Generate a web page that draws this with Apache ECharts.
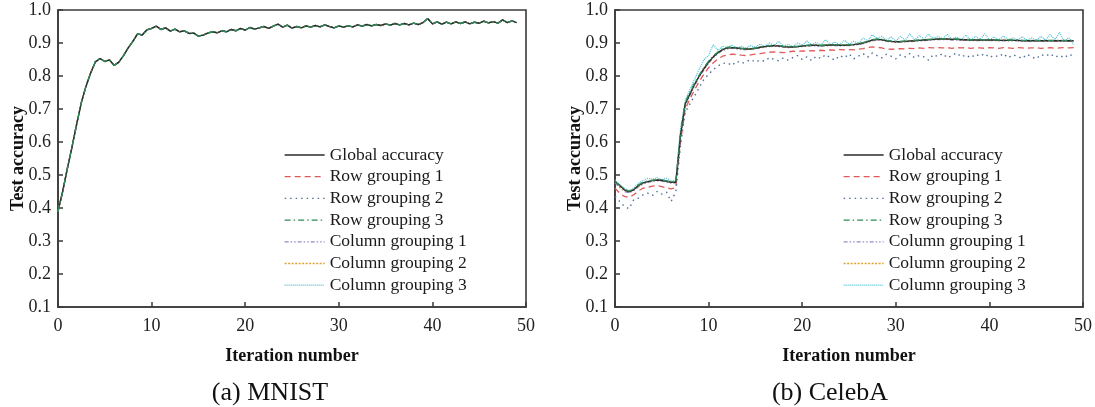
<!DOCTYPE html>
<html>
<head>
<meta charset="utf-8">
<script src="https://cdn.jsdelivr.net/npm/echarts@6/dist/echarts.min.js"></script>
<style>
html,body{margin:0;padding:0;background:#fff;}
#chart{width:1095px;height:407px;}
</style>
</head>
<body>
<div id="chart"></div>
<script>
// ---------------- DATA ----------------
var iterations = [
  0,0.5,1,1.5,2,2.5,3,3.5,4,4.5,
  5,5.5,6,6.5,7,7.5,8,8.5,9,9.5,
  10,10.5,11,11.5,12,12.5,13,13.5,14,14.5,
  15,15.5,16,16.5,17,17.5,18,18.5,19,19.5,
  20,20.5,21,21.5,22,22.5,23,23.5,24,24.5,
  25,25.5,26,26.5,27,27.5,28,28.5,29,29.5,
  30,30.5,31,31.5,32,32.5,33,33.5,34,34.5,
  35,35.5,36,36.5,37,37.5,38,38.5,39,39.5,
  40,40.5,41,41.5,42,42.5,43,43.5,44,44.5,
  45,45.5,46,46.5,47,47.5,48,48.5,49
];
var seriesNames = ["Global accuracy","Row grouping 1","Row grouping 2","Row grouping 3","Column grouping 1","Column grouping 2","Column grouping 3"];
var xTicks = [0,10,20,30,40,50];
var yTicks = [0.1,0.2,0.3,0.4,0.5,0.6,0.7,0.8,0.9,1.0];
var panelCaptions = ["(a) MNIST","(b) CelebA"];

// MNIST: all seven curves coincide in the picture
var mnistGlobal = [
  0.390,0.450,0.520,0.585,0.655,0.720,0.770,0.810,0.843,0.853,
  0.844,0.849,0.832,0.842,0.862,0.885,0.905,0.928,0.924,0.940,
  0.944,0.951,0.941,0.946,0.936,0.942,0.934,0.937,0.929,0.930,
  0.921,0.924,0.930,0.934,0.931,0.937,0.934,0.941,0.937,0.944,
  0.939,0.947,0.942,0.946,0.950,0.944,0.951,0.957,0.948,0.954,
  0.945,0.950,0.946,0.952,0.948,0.953,0.949,0.955,0.950,0.946,
  0.952,0.948,0.952,0.949,0.955,0.951,0.956,0.952,0.956,0.953,
  0.958,0.954,0.959,0.955,0.959,0.955,0.960,0.956,0.962,0.974,
  0.958,0.964,0.957,0.963,0.958,0.964,0.959,0.964,0.958,0.963,
  0.960,0.966,0.961,0.965,0.960,0.970,0.962,0.967,0.962
];
var mnistRow1 = mnistGlobal, mnistRow2 = mnistGlobal, mnistRow3 = mnistGlobal;
var mnistCol1 = mnistGlobal, mnistCol2 = mnistGlobal, mnistCol3 = mnistGlobal;

var celebGlobal = [
  0.480,0.468,0.455,0.449,0.455,0.468,0.476,0.480,0.483,0.485,
  0.484,0.481,0.478,0.478,0.620,0.715,0.745,0.775,0.800,0.822,
  0.842,0.858,0.871,0.880,0.885,0.886,0.885,0.883,0.882,0.882,
  0.884,0.887,0.889,0.891,0.892,0.891,0.889,0.888,0.888,0.889,
  0.891,0.892,0.893,0.893,0.892,0.893,0.894,0.894,0.893,0.893,
  0.894,0.895,0.897,0.900,0.904,0.909,0.911,0.910,0.907,0.905,
  0.904,0.904,0.905,0.906,0.907,0.908,0.909,0.910,0.911,0.912,
  0.912,0.912,0.911,0.911,0.910,0.910,0.909,0.909,0.909,0.909,
  0.909,0.909,0.908,0.908,0.908,0.908,0.908,0.907,0.907,0.907,
  0.907,0.907,0.907,0.907,0.907,0.907,0.907,0.907,0.907
];
var celebRow1 = [
  0.460,0.445,0.435,0.432,0.440,0.452,0.460,0.463,0.466,0.468,
  0.465,0.461,0.458,0.462,0.600,0.700,0.730,0.758,0.783,0.806,
  0.825,0.840,0.852,0.860,0.864,0.866,0.865,0.863,0.862,0.864,
  0.866,0.868,0.870,0.872,0.873,0.872,0.871,0.873,0.875,0.874,
  0.876,0.875,0.877,0.876,0.878,0.877,0.879,0.878,0.880,0.879,
  0.880,0.879,0.881,0.883,0.886,0.888,0.887,0.885,0.882,0.881,
  0.882,0.883,0.882,0.884,0.883,0.885,0.884,0.886,0.885,0.886,
  0.885,0.886,0.884,0.886,0.885,0.886,0.884,0.886,0.885,0.884,
  0.886,0.885,0.884,0.886,0.885,0.884,0.886,0.885,0.884,0.885,
  0.886,0.884,0.885,0.886,0.884,0.885,0.886,0.885,0.886
];
var celebRow2 = [
  0.435,0.420,0.405,0.398,0.425,0.430,0.440,0.445,0.438,0.450,
  0.442,0.448,0.420,0.450,0.590,0.690,0.715,0.740,0.765,0.790,
  0.805,0.820,0.830,0.838,0.840,0.832,0.845,0.838,0.843,0.850,
  0.842,0.848,0.845,0.856,0.850,0.846,0.855,0.848,0.856,0.862,
  0.850,0.858,0.847,0.860,0.853,0.865,0.855,0.848,0.862,0.855,
  0.867,0.852,0.860,0.868,0.857,0.870,0.862,0.855,0.866,0.860,
  0.852,0.864,0.858,0.868,0.855,0.862,0.858,0.848,0.865,0.859,
  0.868,0.855,0.862,0.870,0.858,0.864,0.855,0.866,0.860,0.868,
  0.856,0.863,0.858,0.868,0.855,0.864,0.860,0.853,0.866,0.858,
  0.852,0.865,0.860,0.868,0.857,0.863,0.855,0.866,0.860
];
var celebRow3 = [
  0.478,0.470,0.457,0.451,0.457,0.470,0.478,0.482,0.484,0.486,
  0.485,0.482,0.479,0.480,0.630,0.720,0.750,0.779,0.803,0.826,
  0.845,0.861,0.873,0.882,0.887,0.887,0.886,0.884,0.883,0.883,
  0.885,0.888,0.890,0.892,0.893,0.892,0.890,0.889,0.889,0.890,
  0.892,0.893,0.894,0.894,0.893,0.894,0.895,0.895,0.894,0.894,
  0.895,0.896,0.898,0.901,0.905,0.910,0.912,0.911,0.908,0.906,
  0.905,0.905,0.906,0.907,0.908,0.909,0.910,0.911,0.912,0.913,
  0.913,0.913,0.912,0.912,0.911,0.911,0.910,0.910,0.910,0.910,
  0.910,0.910,0.909,0.909,0.909,0.909,0.909,0.908,0.908,0.908,
  0.908,0.908,0.908,0.908,0.908,0.908,0.908,0.908,0.908
];
var celebCol1 = [
  0.476,0.462,0.450,0.446,0.452,0.464,0.472,0.477,0.480,0.482,
  0.481,0.478,0.475,0.476,0.610,0.710,0.740,0.770,0.796,0.818,
  0.838,0.855,0.868,0.877,0.882,0.884,0.882,0.880,0.880,0.881,
  0.882,0.885,0.887,0.889,0.890,0.889,0.887,0.886,0.887,0.888,
  0.889,0.890,0.891,0.891,0.890,0.891,0.892,0.892,0.891,0.892,
  0.892,0.893,0.895,0.898,0.902,0.906,0.909,0.908,0.905,0.903,
  0.902,0.903,0.903,0.904,0.905,0.906,0.907,0.908,0.909,0.910,
  0.910,0.910,0.909,0.909,0.908,0.908,0.907,0.907,0.907,0.907,
  0.907,0.907,0.906,0.906,0.906,0.906,0.906,0.905,0.905,0.905,
  0.905,0.905,0.905,0.905,0.905,0.905,0.905,0.905,0.905
];
var celebCol2 = [
  0.482,0.466,0.453,0.450,0.457,0.466,0.475,0.481,0.482,0.486,
  0.483,0.482,0.477,0.479,0.625,0.718,0.747,0.773,0.801,0.824,
  0.843,0.860,0.870,0.881,0.884,0.887,0.884,0.884,0.881,0.883,
  0.883,0.888,0.888,0.892,0.891,0.892,0.888,0.889,0.887,0.890,
  0.890,0.893,0.892,0.894,0.891,0.894,0.893,0.895,0.892,0.894,
  0.893,0.896,0.896,0.901,0.903,0.910,0.910,0.911,0.906,0.906,
  0.903,0.905,0.904,0.907,0.906,0.909,0.908,0.911,0.910,0.913,
  0.911,0.913,0.910,0.912,0.909,0.911,0.908,0.910,0.908,0.910,
  0.908,0.910,0.907,0.909,0.907,0.909,0.907,0.908,0.906,0.908,
  0.906,0.908,0.906,0.908,0.906,0.908,0.906,0.908,0.906
];
var celebCol3 = [
  0.485,0.470,0.460,0.452,0.460,0.475,0.483,0.490,0.487,0.492,
  0.486,0.490,0.482,0.484,0.640,0.725,0.760,0.790,0.820,0.850,
  0.862,0.895,0.878,0.890,0.886,0.894,0.885,0.890,0.884,0.892,
  0.887,0.897,0.890,0.900,0.893,0.905,0.890,0.896,0.889,0.900,
  0.893,0.906,0.895,0.902,0.894,0.910,0.896,0.903,0.895,0.908,
  0.897,0.905,0.899,0.915,0.907,0.925,0.914,0.920,0.909,0.918,
  0.906,0.920,0.908,0.928,0.910,0.922,0.912,0.927,0.914,0.920,
  0.913,0.926,0.912,0.918,0.911,0.924,0.910,0.920,0.911,0.928,
  0.910,0.918,0.909,0.921,0.910,0.916,0.908,0.919,0.909,0.915,
  0.908,0.920,0.909,0.925,0.910,0.932,0.905,0.916,0.895
];

// ---------------- STYLE ----------------
var FONT = "'Liberation Serif', 'Times New Roman', serif";
var styles = [
  {color:'#2b2b2b', width:1.4, type:'solid', z:3},
  {color:'#e05a5a', width:1.3, type:[6,4], z:2},
  {color:'#4f6f9a', width:1.4, type:[1.5,4], z:2},
  {color:'#2e8b57', width:1.4, type:[6,3,1.5,3], z:4},
  {color:'#9a86c8', width:1.2, type:[4,2,1.5,2,1.5,2], z:2},
  {color:'#e0a030', width:1.2, type:[2,1.5], z:2},
  {color:'#45bfd6', width:1.2, type:[1,1], z:2}
];
var mnistSets = [mnistGlobal,mnistRow1,mnistRow2,mnistRow3,mnistCol1,mnistCol2,mnistCol3];
var celebSets = [celebGlobal,celebRow1,celebRow2,celebRow3,celebCol1,celebCol2,celebCol3];

function pairs(arr){ return iterations.map(function(x,i){ return [x, arr[i]]; }); }

var grids = [
  {left:58, top:10, width:468, height:297},
  {left:615, top:10, width:468, height:297}
];
var axisColor = '#3a3a3a';

function makeX(idx){
  return {
    type:'value', gridIndex:idx, min:xTicks[0], max:xTicks[xTicks.length-1], interval:10,
    name:'Iteration number', nameLocation:'middle', nameGap:40, nameMoveOverlap:false,
    nameTextStyle:{fontFamily:FONT, fontSize:18, fontWeight:'bold', color:'#111'},
    axisLine:{show:true, onZero:false, lineStyle:{color:axisColor, width:1.6}},
    axisTick:{show:true, inside:true, length:5, lineStyle:{color:axisColor, width:1.5}},
    axisLabel:{fontFamily:FONT, fontSize:18, color:'#222', margin:10, showMinLabel:true, showMaxLabel:true},
    splitLine:{show:false}
  };
}
function makeY(idx){
  return {
    type:'value', gridIndex:idx, min:yTicks[0], max:yTicks[yTicks.length-1], interval:0.1,
    name:'Test accuracy', nameLocation:'middle', nameGap:31, nameRotate:90, nameMoveOverlap:false,
    nameTextStyle:{fontFamily:FONT, fontSize:18, fontWeight:'bold', color:'#111'},
    axisLine:{show:true, onZero:false, lineStyle:{color:axisColor, width:1.6}},
    axisTick:{show:true, inside:true, length:5, lineStyle:{color:axisColor, width:1.5}},
    axisLabel:{fontFamily:FONT, fontSize:18, color:'#222', margin:7,
      formatter:function(v){ return (Math.round(v*10)/10).toFixed(1); }},
    splitLine:{show:false}
  };
}

var series = [];
[mnistSets, celebSets].forEach(function(sets, g){
  sets.forEach(function(arr, k){
    var st = styles[k];
    series.push({
      type:'line', name:seriesNames[k], xAxisIndex:g, yAxisIndex:g,
      data:pairs(arr), symbol:'none', showSymbol:false, smooth:false, z:st.z,
      lineStyle:{color:st.color, width:st.width, type:st.type},
      itemStyle:{color:st.color}
    });
  });
});

function makeLegend(left){
  return {
    orient:'vertical', left:left, top:146, padding:0,
    itemWidth:40, itemHeight:18, itemGap:3.7,
    data:seriesNames,
    selectedMode:false,
    itemStyle:{opacity:0},
    lineStyle:{width:1.3},
    textStyle:{fontFamily:FONT, fontSize:17.5, color:'#1a1a1a', lineHeight:18}
  };
}

var chart = echarts.init(document.getElementById('chart'), null, {renderer:'canvas'});
chart.setOption({
  animation:false,
  backgroundColor:'#fff',
  grid:grids.map(function(g){ return Object.assign({show:true, borderColor:axisColor, borderWidth:1.6, backgroundColor:'transparent'}, g); }),
  xAxis:[makeX(0), makeX(1)],
  yAxis:[makeY(0), makeY(1)],
  legend:[makeLegend(284), makeLegend(843)],
  series:series,
  graphic:[
    {type:'text', x:270, y:393, style:{text:panelCaptions[0], font:'26px ' + FONT, fill:'#111', align:'center', verticalAlign:'middle'}},
    {type:'text', x:830, y:393, style:{text:panelCaptions[1], font:'26px ' + FONT, fill:'#111', align:'center', verticalAlign:'middle'}}
  ]
});
</script>
</body>
</html>
